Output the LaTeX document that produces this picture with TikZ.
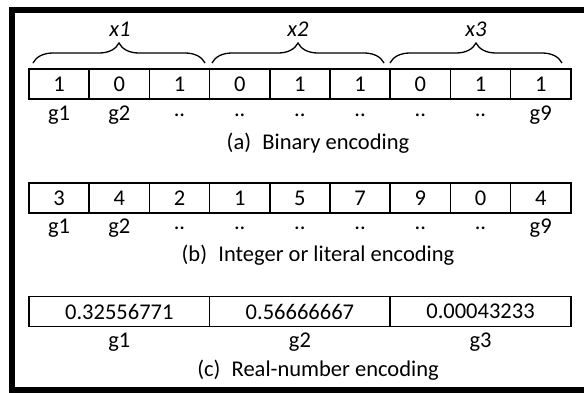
\documentclass[tikz,border=0pt]{standalone}
\usepackage{fontspec}
\setmainfont{Carlito}
\usetikzlibrary{decorations.pathreplacing}
\tikzset{
  cell/.style={draw, line width=1.5pt, minimum width=60.2pt, minimum height=30pt, inner sep=0pt, font=\fontsize{22.5}{24}\selectfont},
  wcell/.style={cell, minimum width=180.7pt},
  glbl/.style={inner sep=0pt, font=\fontsize{22.5}{24}\selectfont},
  captext/.style={inner sep=0pt, font=\fontsize{22.5}{24}\selectfont},
  xlbl/.style={inner sep=0pt, font=\fontsize{22.5}{24}\selectfont\itshape},
  brc/.style={decorate, decoration={brace, amplitude=20pt, aspect=0.5}, line width=1.3pt}
}
\begin{document}
\begin{tikzpicture}[x=1pt,y=-1pt]
\useasboundingbox (0,0) rectangle (584,392);
\fill[white] (0,0) rectangle (584,392);
\begin{scope}
\clip (0,0) rectangle (584,392);
\draw[line width=6pt] (12,10) rectangle (620,389.5);
\end{scope}
% row a
\foreach \v [count=\i] in {1,0,1,0,1,1,0,1,1} {
  \node[cell] (a\i) at ({29+60.2*(\i-0.5)},84) {\v};
}
\foreach \t [count=\i] in {g1,g2,..,..,..,..,..,..,g9} {
  \node[glbl] (ga\i) at ({29+60.2*(\i-0.5)},115) {\t};
}
\node[captext] (capa) at (318,143) {(a)\hspace{0.5em}Binary encoding};
% braces
\coordinate (b1s) at (33,63); \coordinate (b1e) at (205,63);
\coordinate (b2s) at (212,63); \coordinate (b2e) at (384,63);
\coordinate (b3s) at (390,63); \coordinate (b3e) at (562,63);
\draw[brc] (b1s) -- (b1e);
\draw[brc] (b2s) -- (b2e);
\draw[brc] (b3s) -- (b3e);
\node[xlbl] (x1) at (120,29) {x1};
\node[xlbl] (x2) at (298,29) {x2};
\node[xlbl] (x3) at (476,29) {x3};
% row b
\foreach \v [count=\i] in {3,4,2,1,5,7,9,0,4} {
  \node[cell] (b\i) at ({29+60.2*(\i-0.5)},198) {\v};
}
\foreach \t [count=\i] in {g1,g2,..,..,..,..,..,..,g9} {
  \node[glbl] (gb\i) at ({29+60.2*(\i-0.5)},228) {\t};
}
\node[captext] (capb) at (318,255) {(b)\hspace{0.5em}Integer or literal encoding};
% row c
\foreach \v [count=\i] in {0.32556771,0.56666667,0.00043233} {
  \node[wcell] (c\i) at ({29+180.6*(\i-0.5)},311.5) {\v};
}
\foreach \t [count=\i] in {g1,g2,g3} {
  \node[glbl] (gc\i) at ({29+180.6*(\i-0.5)},342) {\t};
}
\node[captext] (capc) at (318,370) {(c)\hspace{0.5em}Real-number encoding};
\end{tikzpicture}
\end{document}
